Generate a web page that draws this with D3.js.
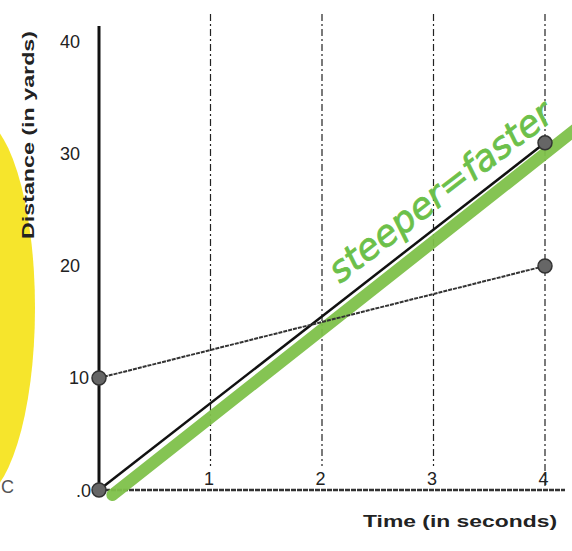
<!DOCTYPE html>
<html><head><meta charset="utf-8">
<script src="https://cdn.jsdelivr.net/npm/d3@7"></script>
<style>body{margin:0;background:#fff}svg{display:block}</style>
</head><body>
<svg id="c" width="572" height="551"></svg>
<script>
const xTicks = [1, 2, 3, 4];
const yTicks = [10, 20, 30, 40];
const timeA = [0, 4];
const distA = [0, 31];
const timeB = [0, 4];
const distB = [10, 20];
const xTitle = "Time (in seconds)";
const yTitle = "Distance (in yards)";
const note = "steeper=faster";

const svg = d3.select("#c");
const x = d3.scaleLinear().domain([0, 4]).range([99, 545]);
const y = d3.scaleLinear().domain([0, 40]).range([490, 42]);
const font = "Liberation Sans, Arial";

// yellow highlighter blob
svg.append("ellipse").attr("cx", -25).attr("cy", 308).attr("rx", 60).attr("ry", 192)
  .attr("fill", "#f6e52c");

// vertical dashed gridlines
svg.selectAll(".g").data(xTicks).join("line")
  .attr("x1", d => x(d)).attr("x2", d => x(d))
  .attr("y1", 14).attr("y2", d => d === 4 ? y(0) : 466)
  .attr("stroke", "#222").attr("stroke-width", 1.2)
  .attr("stroke-dasharray", "7,3,2,3");

// y axis
const ya = svg.append("g").attr("transform", `translate(${x(0)},0)`)
  .call(d3.axisLeft(y).tickValues(yTicks).tickFormat(d3.format("d")).tickSize(0).tickPadding(19));
ya.select(".domain").attr("d", `M0,26V${y(0)}`).attr("stroke", "#111").attr("stroke-width", 3);
ya.selectAll("text").attr("font-family", font).attr("font-size", 18).attr("fill", "#222");
ya.selectAll(".tick").filter(d => d === 10).select("text").attr("x", -10);
svg.append("text").attr("x", 91).attr("y", y(0) + 7).attr("text-anchor", "end")
  .attr("font-family", font).attr("font-size", 18).attr("fill", "#222").text(".0");

// x axis
const xa = svg.append("g").attr("transform", `translate(0,${y(0)})`)
  .call(d3.axisTop(x).tickValues(xTicks).tickFormat(d3.format("d")).tickSize(0).tickPadding(5));
xa.select(".domain").attr("d", `M${x(0)},0H565`).attr("stroke", "#333").attr("stroke-width", 2.5)
  .attr("stroke-dasharray", "5,1");
xa.selectAll("text").attr("font-family", font).attr("font-size", 18).attr("fill", "#222").attr("dx", -2);

// titles
svg.append("text").attr("x", 557).attr("y", 527).attr("text-anchor", "end")
  .attr("font-family", font).attr("font-weight", "bold").attr("font-size", 17)
  .attr("textLength", 194).attr("lengthAdjust", "spacingAndGlyphs")
  .attr("fill", "#222").text(xTitle);
svg.append("text").attr("transform", "translate(34,135) rotate(-90)").attr("text-anchor", "middle")
  .attr("font-family", font).attr("font-weight", "bold").attr("font-size", 16)
  .attr("textLength", 208).attr("lengthAdjust", "spacingAndGlyphs")
  .attr("fill", "#222").text(yTitle);

// green highlighter under line A
svg.append("line").attr("x1", x(0.12)).attr("y1", y(-0.45)).attr("x2", x(4.3)).attr("y2", y(32.4))
  .attr("stroke", "#7fc14a").attr("stroke-width", 12).attr("stroke-linecap", "round").attr("opacity", 0.95);

// lines
const line = d3.line().x(d => x(d[0])).y(d => y(d[1]));
svg.append("path").attr("d", line(timeA.map((t, i) => [t, distA[i]])))
  .attr("stroke", "#111").attr("stroke-width", 2.5).attr("fill", "none");
svg.append("path").attr("d", line(timeB.map((t, i) => [t, distB[i]])))
  .attr("stroke", "#333").attr("stroke-width", 2).attr("stroke-dasharray", "4,1").attr("fill", "none");

// points
const pts = timeA.map((t, i) => [t, distA[i]]).concat(timeB.map((t, i) => [t, distB[i]]));
svg.selectAll(".p").data(pts).join("circle")
  .attr("cx", d => x(d[0])).attr("cy", d => y(d[1])).attr("r", 7)
  .attr("fill", "#666").attr("stroke", "#333").attr("stroke-width", 1.5);

// handwritten note
svg.append("text").attr("transform", "translate(340,284) rotate(-37.5)")
  .attr("font-family", "DejaVu Sans").attr("font-style", "italic").attr("font-size", 36)
  .attr("fill", "#6cc04a").attr("stroke", "#6cc04a").attr("stroke-width", 0.8)
  .attr("textLength", 272).attr("lengthAdjust", "spacingAndGlyphs").text(note);

// partial letter at bottom left
svg.append("text").attr("x", 1).attr("y", 493).attr("font-family", font)
  .attr("font-size", 18).attr("fill", "#555").text("C");
</script>
</body></html>
